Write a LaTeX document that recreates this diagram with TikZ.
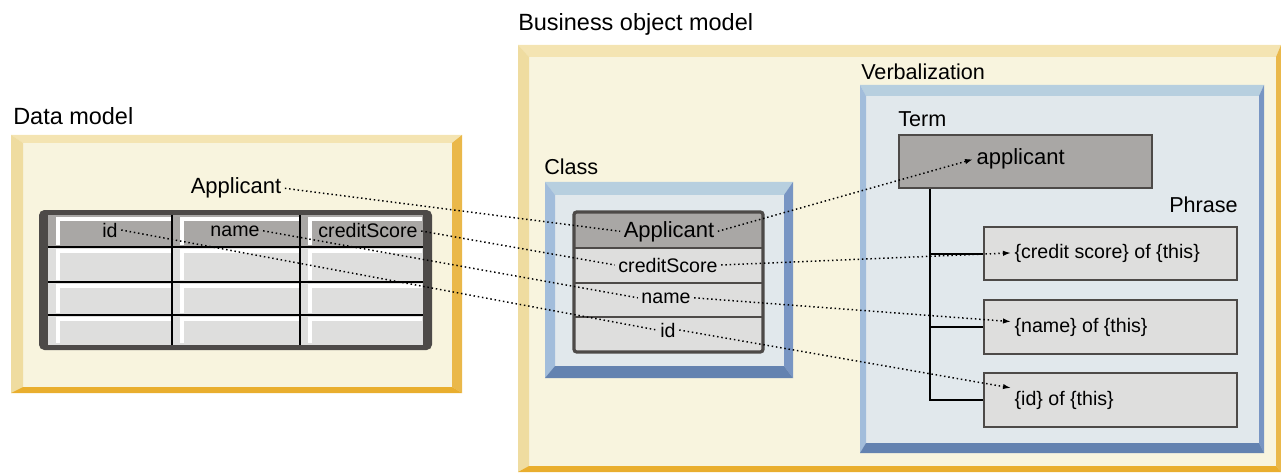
\documentclass[tikz,border=0pt]{standalone}
\usepackage{fontspec}
\setmainfont{Liberation Sans}
\usetikzlibrary{arrows.meta,fit}

\definecolor{yelin}{HTML}{F8F4DE}
\definecolor{yeltop}{HTML}{F4E4B2}
\definecolor{yelleft}{HTML}{EFDCA0}
\definecolor{yelright}{HTML}{EAB84A}
\definecolor{yelbot}{HTML}{E9AE2E}
\definecolor{bluin}{HTML}{E1E8EC}
\definecolor{blutop}{HTML}{B7CFDF}
\definecolor{bluleft}{HTML}{A2BDDB}
\definecolor{bluright}{HTML}{7895C3}
\definecolor{blubot}{HTML}{6382B0}
\definecolor{hdrgray}{HTML}{A9A7A5}
\definecolor{rowgray}{HTML}{DEDEDD}
\definecolor{tbldark}{HTML}{4D4A48}

% bevelled frame: colour set, outer corners, widths top/left/right/bottom
\newcommand{\bevelframe}[9]{%
  \fill[#1in] (#2,#3) rectangle (#4,#5);
  \fill[#1top] (#2,#3) -- (#4,#3) -- ({#4-#8},{#3+#6}) -- ({#2+#7},{#3+#6}) -- cycle;
  \fill[#1left] (#2,#3) -- ({#2+#7},{#3+#6}) -- ({#2+#7},{#5-#9}) -- (#2,#5) -- cycle;
  \fill[#1right] (#4,#3) -- (#4,#5) -- ({#4-#8},{#5-#9}) -- ({#4-#8},{#3+#6}) -- cycle;
  \fill[#1bot] (#2,#5) -- (#4,#5) -- ({#4-#8},{#5-#9}) -- ({#2+#7},{#5-#9}) -- cycle;
}

\tikzset{
  biglbl/.style={font=\fontsize{17.6}{20}\selectfont, inner sep=0pt},
  lbl/.style={font=\fontsize{16.2}{19}\selectfont, inner sep=0pt},
  txt/.style={font=\fontsize{14.7}{17}\selectfont, inner sep=2.5pt},
  bigtxt/.style={font=\fontsize{16.5}{19}\selectfont, inner sep=2.5pt},
  termbox/.style={draw=tbldark, line width=1.5pt, fill=hdrgray, inner sep=0pt},
  phrasebox/.style={draw=tbldark, line width=1.5pt, fill=rowgray, inner sep=0pt},
  treeline/.style={line width=1.5pt, black},
  link/.style={line width=1.1pt, dash pattern=on 1.1pt off 2.1pt},
  linkarrow/.style={link, -{Latex[length=6pt,width=4pt]}}
}

\begin{document}
\begin{tikzpicture}[x=0.75pt, y=-0.75pt]
  \useasboundingbox (0,0) rectangle (1281,474);

  % frames
  \bevelframe{yel}{11}{135}{462}{393}{8}{12}{10}{6}
  \bevelframe{yel}{518}{45}{1281}{472}{12}{11}{5}{6}
  \bevelframe{blu}{545}{182}{793}{378}{13}{10}{9}{12}
  \bevelframe{blu}{860}{85}{1264}{453}{11}{6}{5}{10}

  \node[biglbl, anchor=base west] (lblData) at (13,125) {Data model};
  \node[biglbl, anchor=base west] (lblBom) at (518,31) {Business object model};
  \node[lbl, anchor=base west] (lblVerb) at (861,80) {Verbalization};
  \node[lbl, anchor=base west] (lblClass) at (544,175) {Class};
  \node[lbl, anchor=base west] (lblTerm) at (898,127) {Term};
  \node[lbl, anchor=base east] (lblPhrase) at (1238,213) {Phrase};

  % data table
  \fill[tbldark, rounded corners=4pt] (39,210) rectangle (432,350);
  \fill[hdrgray] (48,215) rectangle (423,247);
  \fill[rowgray] (48,247) rectangle (423,345);
  \foreach \cl/\cr in {48/172, 172/300, 300/423}
    \foreach \rt/\rb in {215/247, 247/282, 282/315, 315/345}
      \draw[white, line width=2.4pt] ({\cl+10},{\rb-2}) -- ({\cl+10},{\rt+4}) -- ({\cr-1},{\rt+4});
  \foreach \ry in {247, 282, 315}
    \draw[black, line width=1.2pt] (48,\ry) -- (423,\ry);
  \foreach \cx in {172, 300}
    \draw[black, line width=1.6pt] (\cx,215) -- (\cx,345);

  \node[bigtxt, anchor=base] (dmApplicant) at (236,194) {Applicant};
  \node[txt, anchor=base] (dmId) at (110,237) {id};
  \node[txt, anchor=base] (dmName) at (235,236) {name};
  \node[txt, anchor=base] (dmCredit) at (368,238) {creditScore};

  % class box
  \fill[hdrgray] (574,212) rectangle (763,248);
  \fill[rowgray] (574,248) rectangle (763,352);
  \foreach \ry in {248, 283, 317}
    \draw[tbldark, line width=1.2pt] (574,\ry) -- (763,\ry);
  \draw[tbldark, line width=2.4pt, rounded corners=2pt] (574,212) rectangle (763,352);

  \node[bigtxt, anchor=base] (clsApplicant) at (669,237) {Applicant};
  \node[txt, anchor=base] (clsCredit) at (668,272) {creditScore};
  \node[txt, anchor=base] (clsName) at (666,303) {name};
  \node[txt, anchor=base] (clsId) at (668,337) {id};

  % verbalization
  \node[termbox, fit={(899,135) (1152,188)}] (term) {};
  \node[phrasebox, fit={(984,227) (1237,280)}] (phCredit) {};
  \node[phrasebox, fit={(984,300) (1237,354)}] (phName) {};
  \node[phrasebox, fit={(984,373) (1237,427)}] (phId) {};

  \coordinate (trunk) at ([xshift=24pt]term.south west);
  \draw[treeline] (trunk) |- (phId.west);
  \draw[treeline] (trunk |- phCredit.west) -- (phCredit.west);
  \draw[treeline] (trunk |- phName.west) -- (phName.west);

  \node[bigtxt, anchor=base west] (termText) at (973,165) {applicant};
  \node[txt, anchor=base west] (phCreditText) at (1011,258) {\{credit score\} of \{this\}};
  \node[txt, anchor=base west] (phNameText) at (1011,332) {\{name\} of \{this\}};
  \node[txt, anchor=base west] (phIdText) at (1011,405) {\{id\} of \{this\}};

  % mappings
  \draw[link] (dmApplicant.east) -- (clsApplicant.west);
  \draw[link] (dmCredit.east) -- (clsCredit.west);
  \draw[link] (dmName.east) -- (clsName.west);
  \draw[link] (dmId.east) -- (clsId.west);
  \draw[linkarrow] (clsApplicant.east) -- (termText.west);
  \draw[linkarrow] (clsCredit.east) -- (phCreditText.west);
  \draw[linkarrow] (clsName.east) -- ([yshift=4pt]phNameText.west);
  \draw[linkarrow] (clsId.east) -- ([yshift=9pt]phIdText.west);
\end{tikzpicture}
\end{document}
